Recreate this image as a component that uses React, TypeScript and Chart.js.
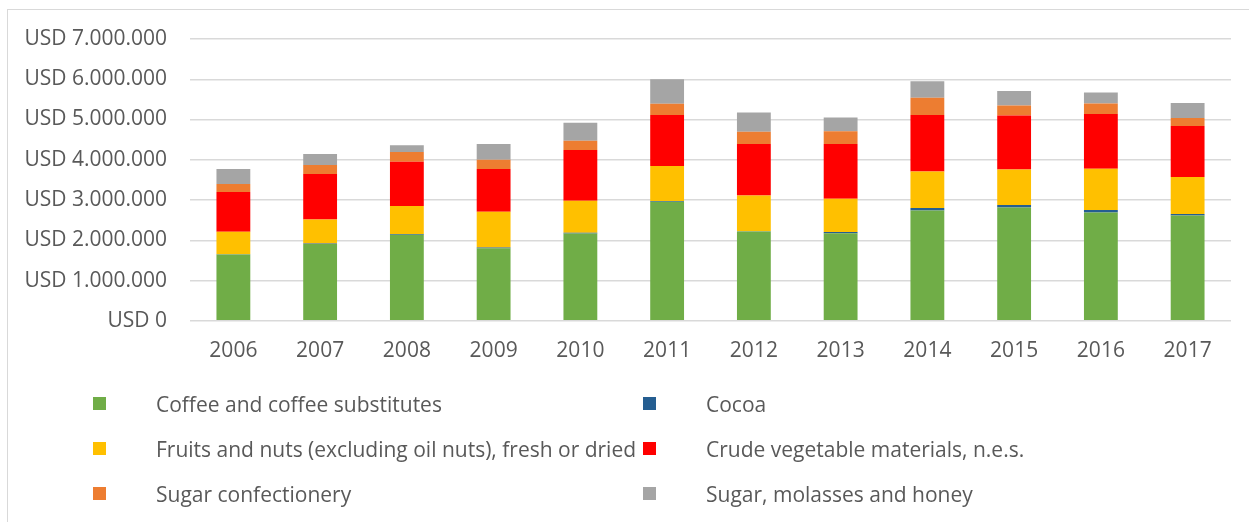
import React, { useEffect, useRef } from "react";
import { Chart, registerables } from "chart.js";

Chart.register(...registerables);

const years = ["2006", "2007", "2008", "2009", "2010", "2011", "2012", "2013", "2014", "2015", "2016", "2017"];

const coffee = [1644000, 1910000, 2135000, 1800000, 2167000, 2955000, 2217000, 2175000, 2740000, 2815000, 2690000, 2616000];
const cocoa = [10000, 10000, 20000, 20000, 20000, 20000, 10000, 30000, 60000, 60000, 60000, 40000];
const fruits = [556000, 596000, 695000, 890000, 793000, 870000, 887000, 825000, 910000, 885000, 1030000, 914000];
const crude = [990000, 1130000, 1100000, 1060000, 1260000, 1270000, 1280000, 1360000, 1405000, 1340000, 1360000, 1270000];
const sugarConf = [200000, 225000, 240000, 230000, 230000, 275000, 300000, 320000, 425000, 250000, 260000, 200000];
const sugarHoney = [370000, 270000, 170000, 390000, 450000, 610000, 480000, 340000, 410000, 360000, 270000, 370000];

const seriesLabels = [
  "Coffee and coffee substitutes",
  "Cocoa",
  "Fruits and nuts (excluding oil nuts), fresh or dried",
  "Crude vegetable materials, n.e.s.",
  "Sugar confectionery",
  "Sugar, molasses and honey",
];
const seriesColors = ["#70AD47", "#255E91", "#FFC000", "#FF0000", "#ED7D31", "#A5A5A5"];
const seriesData = [coffee, cocoa, fruits, crude, sugarConf, sugarHoney];

const yMax = 7000000;
const yStep = 1000000;

const fmt = (v: number) => "USD " + String(Math.round(v)).replace(/\B(?=(\d{3})+(?!\d))/g, ".");

const TEXT = "#595959";
const FONT = "'Open Sans', 'Liberation Sans', sans-serif";

export default function App() {
  const ref = useRef<HTMLCanvasElement | null>(null);

  useEffect(() => {
    if (!ref.current) return;
    const chart = new Chart(ref.current, {
      type: "bar",
      data: {
        labels: years,
        datasets: seriesData.map((d, i) => ({
          label: seriesLabels[i],
          data: d,
          backgroundColor: seriesColors[i],
          borderWidth: 0,
          barPercentage: 0.39,
          categoryPercentage: 1,
        })),
      },
      options: {
        responsive: false,
        animation: false,
        layout: { padding: { left: 0, right: 18, top: 39, bottom: 8 } },
        plugins: {
          legend: { display: false },
          tooltip: { enabled: false },
        },
        scales: {
          x: {
            stacked: true,
            grid: { display: false, drawTicks: false },
            border: { display: false },
            ticks: {
              color: TEXT,
              padding: 18,
              font: { family: FONT, size: 21 },
            },
          },
          y: {
            stacked: true,
            min: 0,
            max: yMax,
            grid: { color: "#D9D9D9", lineWidth: 1.4, drawTicks: false },
            border: { display: false },
            ticks: {
              stepSize: yStep,
              color: TEXT,
              padding: 23,
              font: { family: FONT, size: 21 },
              callback: (v: any) => fmt(Number(v)),
            },
            afterFit: (scale: any) => {
              scale.width = 190;
            },
          },
        },
      },
    });
    return () => chart.destroy();
  }, []);

  return (
    <div>
      <div
        style={{
          position: "absolute",
          left: 7,
          top: 9,
          width: 1300,
          height: 600,
          border: "1.5px solid #D9D9D9",
          boxSizing: "border-box",
        }}
      />
      <canvas
        ref={ref}
        width={1249}
        height={390}
        style={{ position: "absolute", left: 0, top: 0, width: 1249, height: 390 }}
      />
      <div
        style={{
          position: "absolute",
          left: 93,
          top: 381,
          display: "grid",
          gridTemplateColumns: "550px 550px",
          gridAutoRows: "45px",
          fontFamily: FONT,
          fontSize: 21,
          color: TEXT,
        }}
      >
        {seriesLabels.map((l, i) => (
          <div key={l} style={{ display: "flex", alignItems: "center", whiteSpace: "nowrap" }}>
            <span
              style={{
                display: "inline-block",
                width: 13,
                height: 13,
                background: seriesColors[i],
                marginRight: 50,
                flex: "none",
              }}
            />
            <span>{l}</span>
          </div>
        ))}
      </div>
    </div>
  );
}
